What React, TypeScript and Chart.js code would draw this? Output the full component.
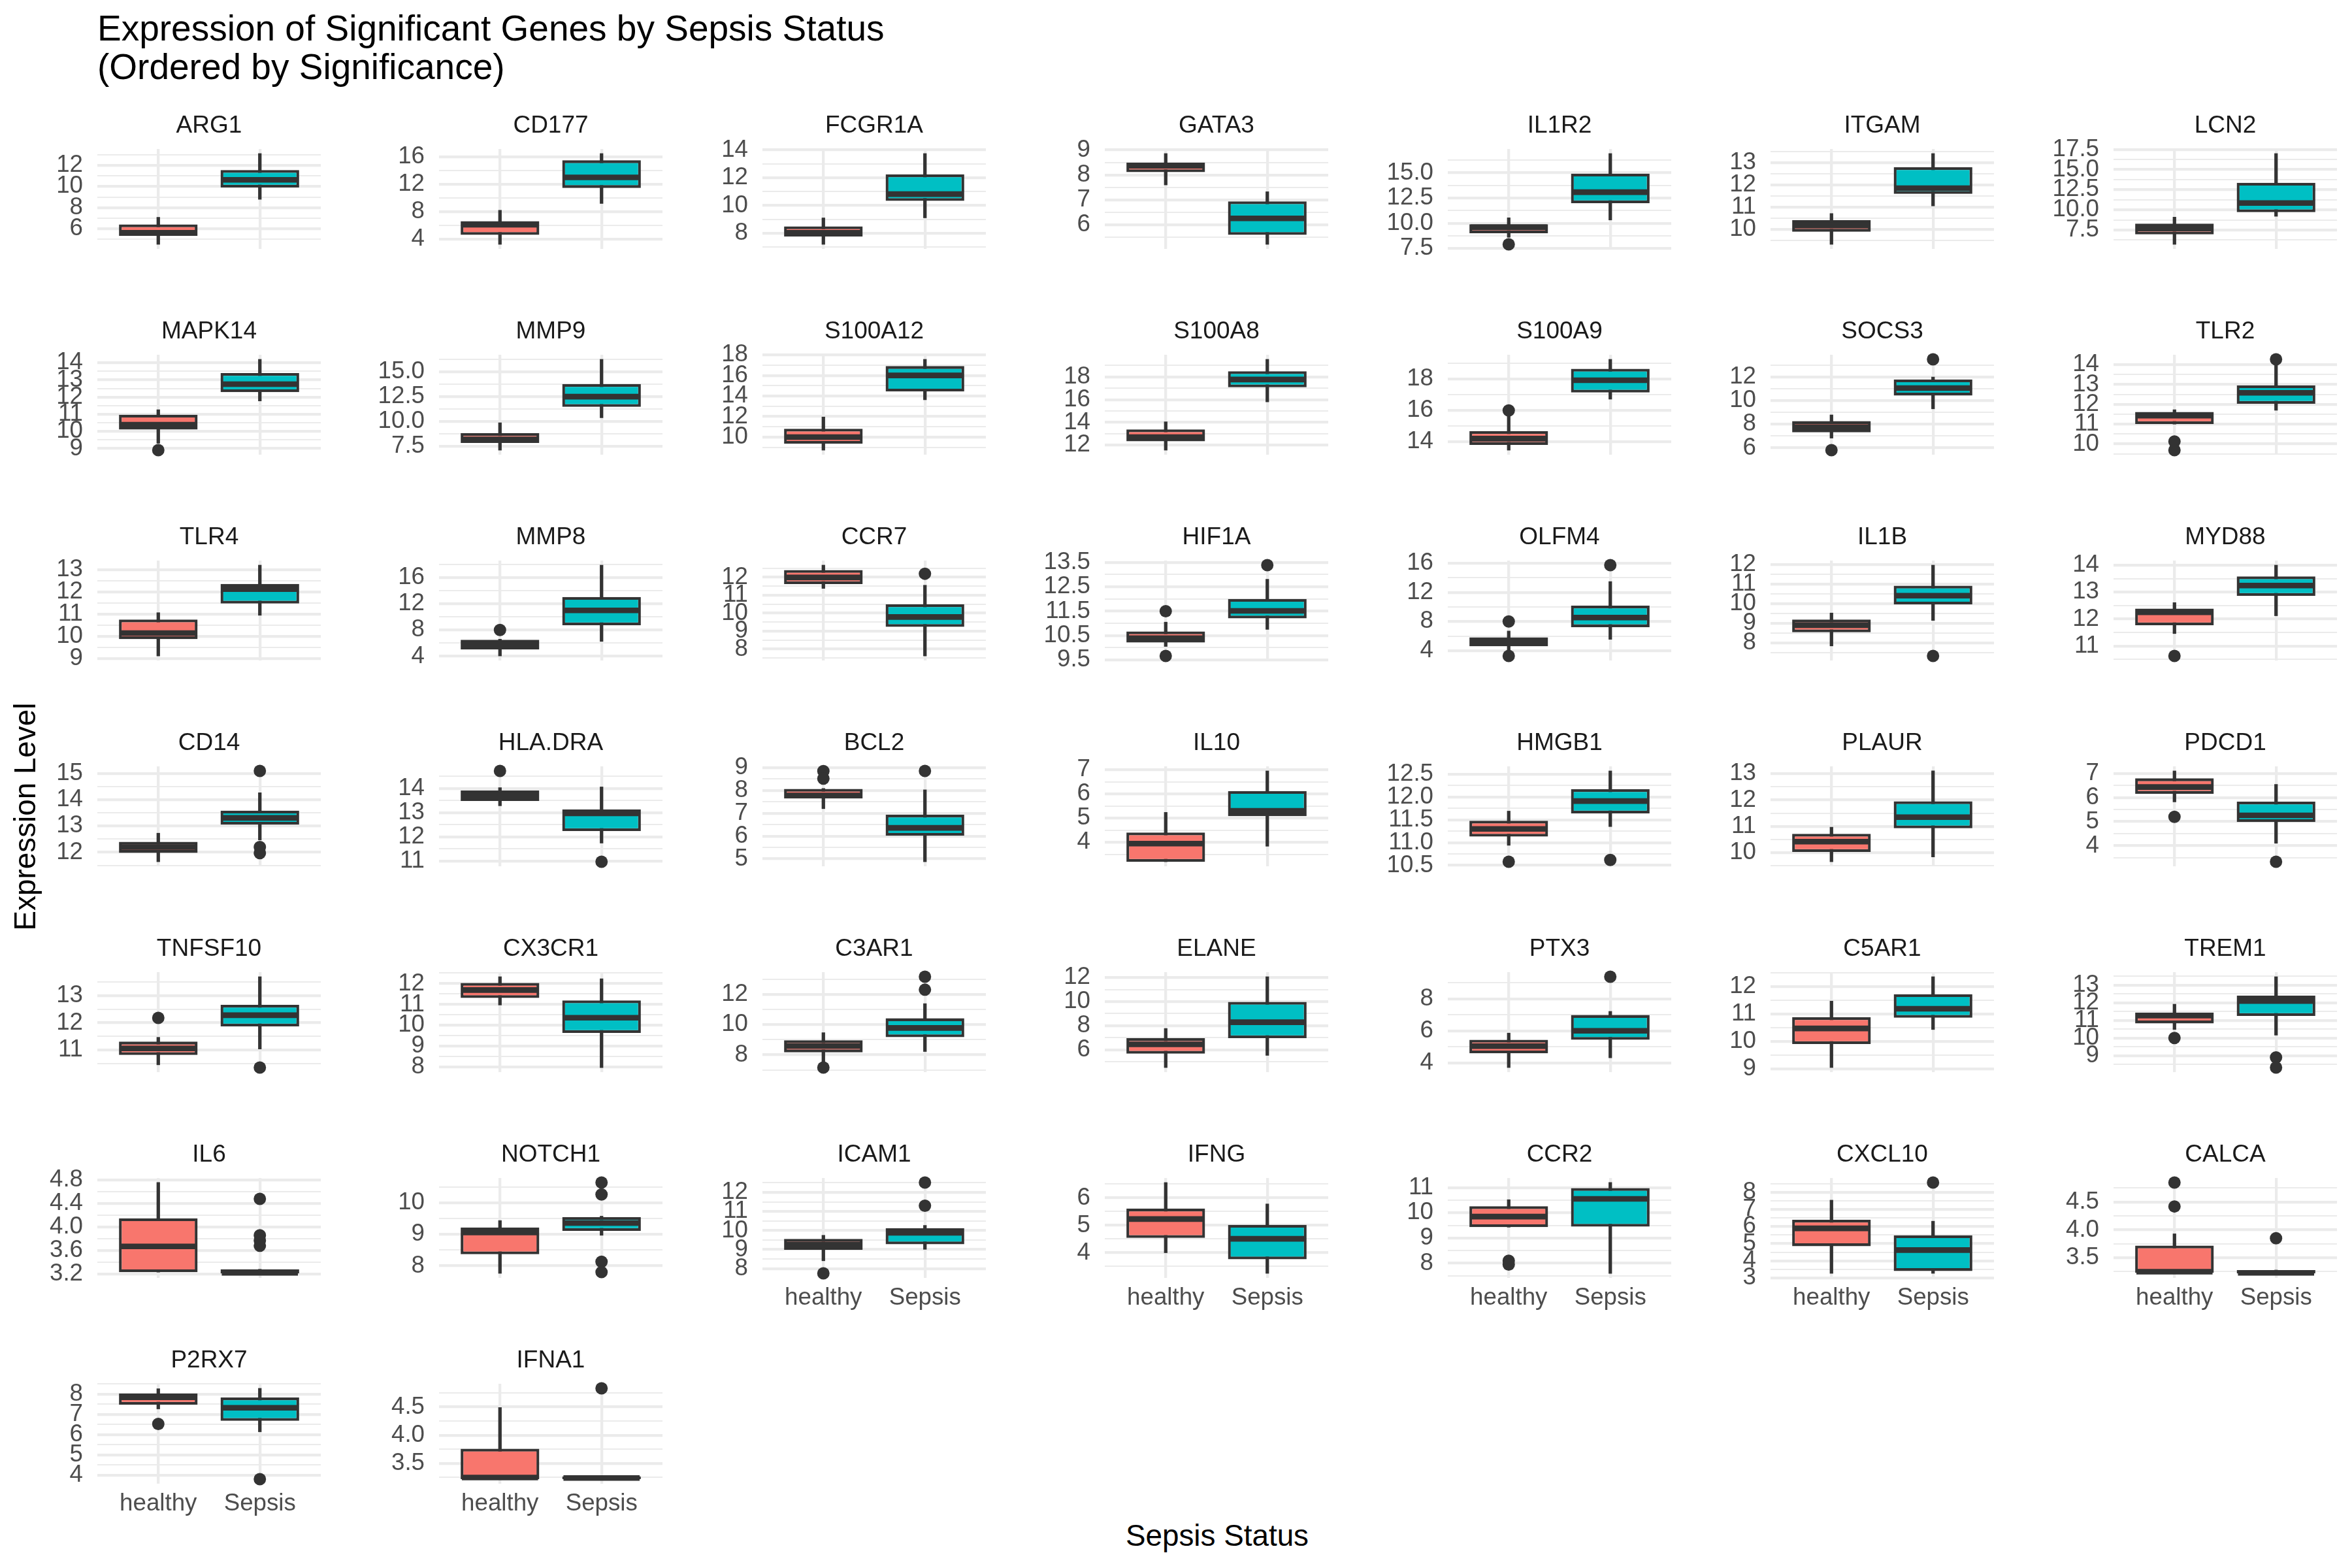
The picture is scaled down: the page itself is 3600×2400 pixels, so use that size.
import React, { useEffect, useRef } from 'react';
import { Chart, registerables } from 'chart.js';

Chart.register(...registerables);

const FONT = "'Liberation Sans', Arial, Helvetica, sans-serif";
Chart.defaults.font.family = FONT;

// ---------------- DATA ----------------
const genes = [
  'ARG1', 'CD177', 'FCGR1A', 'GATA3', 'IL1R2', 'ITGAM', 'LCN2',
  'MAPK14', 'MMP9', 'S100A12', 'S100A8', 'S100A9', 'SOCS3', 'TLR2',
  'TLR4', 'MMP8', 'CCR7', 'HIF1A', 'OLFM4', 'IL1B', 'MYD88',
  'CD14', 'HLA.DRA', 'BCL2', 'IL10', 'HMGB1', 'PLAUR', 'PDCD1',
  'TNFSF10', 'CX3CR1', 'C3AR1', 'ELANE', 'PTX3', 'C5AR1', 'TREM1',
  'IL6', 'NOTCH1', 'ICAM1', 'IFNG', 'CCR2', 'CXCL10', 'CALCA',
  'P2RX7', 'IFNA1',
];

const groups = ['healthy', 'Sepsis'];

// healthy: lower whisker, Q1, median, Q3, upper whisker
const healthyMin = [4.53, 3.23, 7.20, 7.60, 8.60, 9.33, 5.72, 9.30, 7.09, 8.73, 11.55, 13.46, 6.82, 11.00, 9.12, 4.04, 11.38, 10.05, 4.00, 7.84, 11.46, 11.64, 13.28, 7.20, 3.20, 10.94, 9.66, 5.82, 10.46, 10.97, 7.45, 4.52, 3.70, 9.04, 10.48, 3.23, 7.76, 8.41, 4.00, 9.43, 3.26, 3.23, 7.27, 3.22];
const healthyQ1 = [5.34, 4.62, 7.77, 8.11, 9.00, 9.90, 6.96, 10.10, 7.82, 9.35, 12.33, 13.80, 7.31, 11.01, 9.88, 5.05, 11.62, 10.21, 4.60, 8.54, 11.77, 11.98, 13.48, 7.65, 3.20, 11.13, 10.03, 6.16, 10.82, 11.31, 8.17, 5.68, 4.59, 9.90, 10.83, 3.23, 8.37, 8.99, 4.54, 9.43, 4.85, 3.23, 7.48, 3.22];
const healthyMed = [5.63, 6.10, 8.04, 8.37, 9.60, 10.18, 7.70, 10.39, 8.17, 10.00, 12.70, 14.20, 7.75, 11.43, 10.15, 5.80, 11.99, 10.39, 5.20, 8.90, 12.25, 12.20, 13.70, 7.78, 3.95, 11.30, 10.42, 6.44, 11.06, 11.69, 8.59, 6.45, 5.04, 10.47, 11.27, 3.67, 9.06, 9.27, 5.23, 9.85, 5.89, 3.25, 7.85, 3.25];
const healthyQ3 = [6.41, 6.60, 8.50, 8.50, 9.89, 10.43, 8.29, 10.97, 8.80, 10.82, 13.38, 14.68, 8.26, 11.62, 10.76, 6.50, 12.41, 10.67, 5.83, 9.19, 12.39, 12.40, 13.92, 8.07, 4.41, 11.48, 10.72, 6.80, 11.31, 12.03, 8.97, 6.96, 5.44, 10.88, 11.45, 4.15, 9.22, 9.56, 5.61, 10.26, 6.39, 3.72, 8.04, 3.76];
const healthyMax = [7.09, 8.20, 9.11, 8.86, 10.54, 10.72, 9.10, 11.26, 9.85, 11.96, 14.05, 15.66, 8.79, 11.73, 11.07, 6.60, 12.68, 11.05, 6.70, 9.52, 12.61, 12.73, 14.03, 8.09, 5.24, 11.69, 10.97, 7.11, 11.47, 12.33, 9.47, 7.77, 5.86, 11.47, 11.92, 4.76, 9.44, 9.75, 6.56, 10.52, 7.54, 3.93, 8.27, 4.49];

// sepsis: lower whisker, Q1, median, Q3, upper whisker
const sepsisMin = [8.78, 9.18, 9.11, 5.22, 10.32, 11.06, 9.20, 11.77, 10.35, 13.63, 15.80, 16.72, 9.30, 11.70, 10.95, 6.26, 7.62, 10.75, 5.55, 9.14, 12.12, 12.47, 11.74, 4.87, 3.84, 11.35, 9.84, 4.10, 11.04, 7.97, 8.22, 5.53, 4.31, 10.43, 10.16, 3.21, 8.97, 9.01, 3.25, 7.60, 3.26, 3.22, 6.14, 3.22];
const sepsisQ1 = [9.90, 11.45, 10.33, 5.60, 11.99, 11.60, 9.72, 12.28, 11.45, 14.43, 17.09, 17.15, 10.43, 12.03, 11.48, 8.73, 9.24, 11.20, 7.23, 9.95, 12.86, 13.05, 12.24, 6.01, 5.08, 11.64, 10.93, 4.98, 11.87, 9.63, 9.17, 6.96, 5.44, 10.86, 11.25, 3.21, 9.11, 9.28, 3.76, 9.45, 3.40, 3.22, 6.68, 3.22];
const sepsisMed = [10.62, 12.98, 10.82, 6.26, 13.08, 11.86, 10.85, 12.75, 12.47, 16.00, 17.77, 17.93, 11.06, 12.58, 12.13, 11.00, 9.79, 11.51, 8.54, 10.40, 13.24, 13.31, 12.97, 6.36, 5.30, 11.91, 11.35, 5.26, 12.28, 10.36, 9.78, 8.29, 6.00, 11.19, 12.10, 3.22, 9.36, 9.88, 4.51, 10.55, 4.62, 3.23, 7.33, 3.24];
const sepsisQ3 = [11.55, 15.47, 12.24, 6.94, 14.93, 12.80, 13.37, 13.40, 13.74, 16.91, 18.50, 18.66, 11.80, 12.96, 12.36, 13.05, 10.50, 12.00, 10.18, 10.91, 13.58, 13.59, 13.13, 6.94, 6.12, 12.17, 11.95, 5.83, 12.66, 11.19, 10.42, 9.98, 6.99, 11.72, 12.41, 3.28, 9.55, 10.12, 5.02, 10.98, 5.49, 3.28, 7.84, 3.27];
const sepsisMax = [13.11, 16.46, 13.75, 7.33, 16.92, 13.42, 16.99, 14.20, 16.23, 17.57, 19.55, 19.27, 12.00, 14.14, 13.21, 17.90, 11.56, 12.81, 13.49, 11.96, 14.00, 14.27, 14.06, 8.03, 6.95, 12.57, 13.10, 6.55, 13.69, 12.23, 11.39, 12.07, 7.22, 12.36, 13.48, 3.28, 9.58, 10.27, 5.78, 11.20, 6.31, 3.28, 8.29, 3.27];

// outliers
const healthyOutliers: number[][] = [
  [], [], [], [], [7.9], [], [],
  [8.9], [], [], [], [16.0], [5.8], [10.13, 9.69],
  [], [8.0], [], [11.5, 9.66], [8.0, 3.27], [], [10.63],
  [], [14.72], [8.85, 8.52], [], [10.58], [], [5.2],
  [12.18], [], [7.16], [], [], [], [10.0],
  [], [], [7.75], [], [8.1, 7.95], [], [4.85, 4.42],
  [6.53], [],
];
const sepsisOutliers: number[][] = [
  [], [], [], [], [], [], [],
  [], [], [], [], [], [13.5], [14.27],
  [], [], [12.2], [13.39], [15.75], [7.33], [],
  [15.1, 12.2, 11.97], [10.97], [8.86], [], [10.62], [], [3.33],
  [10.36], [], [13.17, 12.31], [], [9.39], [], [8.9, 8.32],
  [4.48, 3.86, 3.77, 3.68], [10.65, 10.27, 8.13, 7.8], [12.52, 11.3], [], [], [8.57], [3.85],
  [3.8], [4.83],
];

// y-axis tick labels per panel
const yTickLabels: string[][] = [
  ['6', '8', '10', '12'], ['4', '8', '12', '16'], ['8', '10', '12', '14'], ['6', '7', '8', '9'],
  ['7.5', '10.0', '12.5', '15.0'], ['10', '11', '12', '13'], ['7.5', '10.0', '12.5', '15.0', '17.5'],
  ['9', '10', '11', '12', '13', '14'], ['7.5', '10.0', '12.5', '15.0'], ['10', '12', '14', '16', '18'],
  ['12', '14', '16', '18'], ['14', '16', '18'], ['6', '8', '10', '12'], ['10', '11', '12', '13', '14'],
  ['9', '10', '11', '12', '13'], ['4', '8', '12', '16'], ['8', '9', '10', '11', '12'],
  ['9.5', '10.5', '11.5', '12.5', '13.5'], ['4', '8', '12', '16'], ['8', '9', '10', '11', '12'], ['11', '12', '13', '14'],
  ['12', '13', '14', '15'], ['11', '12', '13', '14'], ['5', '6', '7', '8', '9'], ['4', '5', '6', '7'],
  ['10.5', '11.0', '11.5', '12.0', '12.5'], ['10', '11', '12', '13'], ['4', '5', '6', '7'],
  ['11', '12', '13'], ['8', '9', '10', '11', '12'], ['8', '10', '12'], ['6', '8', '10', '12'],
  ['4', '6', '8'], ['9', '10', '11', '12'], ['9', '10', '11', '12', '13'],
  ['3.2', '3.6', '4.0', '4.4', '4.8'], ['8', '9', '10'], ['8', '9', '10', '11', '12'], ['4', '5', '6'],
  ['8', '9', '10', '11'], ['3', '4', '5', '6', '7', '8'], ['3.5', '4.0', '4.5'],
  ['4', '5', '6', '7', '8'], ['3.5', '4.0', '4.5'],
];

// ---------------- LAYOUT / STYLE ----------------
const NCOL = 7;
const colLeft = [149, 672, 1167, 1691, 2216, 2710, 3235];
const ROW_TOP0 = 228;
const ROW_STEP = 315;
const PANEL_W = 342;
const PANEL_H = 153;
const AXIS_W = 130;
const STRIP_H = 70;
const XAXIS_H = 70;

const FILLS = ['#F8766D', '#00BFC4'];
const INK = '#333333';
const GRID = '#EBEBEB';
const MAJOR_LW = 4.3;
const MINOR_LW = 2.1;
const OUTLIER_R = 9.5;

// keeps the strip title centred over the panel (not over the whole canvas)
const centerStripTitle = {
  id: 'centerStripTitle',
  afterLayout(chart: any) {
    const t = chart.titleBlock;
    if (t && chart.chartArea) {
      t.left = chart.chartArea.left;
      t.right = chart.chartArea.right;
    }
  },
};

function Panel({ idx }: { idx: number }) {
  const ref = useRef<HTMLCanvasElement | null>(null);
  const row = Math.floor(idx / NCOL);
  const col = idx % NCOL;
  const showX = (row === 5 && col >= 2) || row === 6;
  const cw = AXIS_W * 2 + PANEL_W;
  const ch = STRIP_H + PANEL_H + XAXIS_H;

  useEffect(() => {
    if (!ref.current) return;
    const hOut = healthyOutliers[idx];
    const sOut = sepsisOutliers[idx];
    const all = [healthyMin[idx], healthyMax[idx], sepsisMin[idx], sepsisMax[idx], ...hOut, ...sOut];
    const lo = Math.min(...all);
    const hi = Math.max(...all);
    const pad = (hi - lo) * 0.05;
    const yMin = lo - pad;
    const yMax = hi + pad;

    const labels = yTickLabels[idx];
    const majors = labels.map(Number);
    const step = majors[1] - majors[0];
    const tickList: { value: number; lbl: string; isMajor: boolean }[] = [];
    majors.forEach((v, i) => tickList.push({ value: v, lbl: labels[i], isMajor: true }));
    tickList.push({ value: majors[0] - step / 2, lbl: '', isMajor: false });
    majors.forEach((v) => tickList.push({ value: v + step / 2, lbl: '', isMajor: false }));
    const yTicks = tickList
      .filter((t) => t.value >= yMin && t.value <= yMax)
      .sort((a, b) => a.value - b.value);

    const medRadius = (c: any) => {
      const s = c.chart.scales.x;
      if (!s) return 50;
      return Math.abs(s.getPixelForValue(1.375) - s.getPixelForValue(1));
    };

    const chart = new Chart(ref.current, {
      type: 'bar',
      data: {
        datasets: [
          {
            type: 'bar',
            label: 'whisker',
            data: [
              { x: 1, y: [healthyMin[idx], healthyMax[idx]] },
              { x: 2, y: [sepsisMin[idx], sepsisMax[idx]] },
            ],
            backgroundColor: INK,
            borderWidth: 0,
            barThickness: 4.6,
            grouped: false,
            order: 4,
          } as any,
          {
            type: 'bar',
            label: 'box',
            data: [
              { x: 1, y: [healthyQ1[idx], healthyQ3[idx]] },
              { x: 2, y: [sepsisQ1[idx], sepsisQ3[idx]] },
            ],
            backgroundColor: FILLS,
            borderColor: INK,
            borderWidth: MAJOR_LW,
            borderSkipped: false,
            barPercentage: 0.774,
            categoryPercentage: 1,
            grouped: false,
            order: 3,
          } as any,
          {
            type: 'scatter',
            label: 'median',
            data: [
              { x: 1, y: healthyMed[idx] },
              { x: 2, y: sepsisMed[idx] },
            ],
            pointStyle: 'line',
            pointRadius: medRadius,
            pointBorderWidth: 8.6,
            pointBorderColor: INK,
            pointBackgroundColor: INK,
            order: 2,
            clip: false,
          } as any,
          {
            type: 'scatter',
            label: 'outliers',
            data: [
              ...hOut.map((v) => ({ x: 1, y: v })),
              ...sOut.map((v) => ({ x: 2, y: v })),
            ],
            pointStyle: 'circle',
            pointRadius: OUTLIER_R,
            pointBorderWidth: 0,
            pointBackgroundColor: INK,
            order: 1,
            clip: false,
          } as any,
        ],
      },
      options: {
        responsive: false,
        animation: false,
        events: [],
        layout: { padding: { left: 0, right: AXIS_W, top: 0, bottom: 0 } },
        plugins: {
          legend: { display: false },
          tooltip: { enabled: false },
          title: {
            display: true,
            text: genes[idx],
            color: '#1A1A1A',
            font: { size: 37, weight: 'normal', lineHeight: 1, family: FONT },
            padding: { top: 16, bottom: 17 },
          },
        },
        scales: {
          x: {
            type: 'linear',
            min: 0.4,
            max: 2.6,
            offset: false,
            afterBuildTicks: (s: any) => {
              s.ticks = [{ value: 1 }, { value: 2 }];
            },
            afterFit: (s: any) => {
              s.height = XAXIS_H;
            },
            grid: { color: GRID, lineWidth: MAJOR_LW, drawTicks: false, offset: false },
            border: { display: false },
            ticks: {
              display: showX,
              autoSkip: false,
              maxRotation: 0,
              minRotation: 0,
              padding: 9,
              color: '#4D4D4D',
              font: { size: 36.7, family: FONT },
              callback: (v: any) => (v === 1 ? groups[0] : v === 2 ? groups[1] : ''),
            },
          },
          y: {
            type: 'linear',
            min: yMin,
            max: yMax,
            afterBuildTicks: (s: any) => {
              s.ticks = yTicks.map((t) => ({ ...t }));
            },
            afterFit: (s: any) => {
              s.width = AXIS_W;
            },
            grid: {
              color: GRID,
              lineWidth: (c: any) => (c.tick && c.tick.isMajor ? MAJOR_LW : MINOR_LW),
              drawTicks: false,
            },
            border: { display: false },
            ticks: {
              autoSkip: false,
              padding: 22,
              color: '#4D4D4D',
              font: { size: 36.7, family: FONT },
              callback: (_v: any, i: number, t: any[]) => (t[i] && t[i].lbl) || '',
            },
          },
        },
      } as any,
      plugins: [centerStripTitle],
    });
    return () => chart.destroy();
  }, [idx]);

  return (
    <canvas
      ref={ref}
      width={cw}
      height={ch}
      style={{
        position: 'absolute',
        left: colLeft[col] - AXIS_W,
        top: ROW_TOP0 + ROW_STEP * row - STRIP_H,
        width: cw,
        height: ch,
      }}
    />
  );
}

export default function App() {
  useEffect(() => {
    document.body.style.margin = '0';
  }, []);
  return (
    <div
      style={{
        position: 'absolute',
        left: 0,
        top: 0,
        width: 3600,
        height: 2400,
        background: '#ffffff',
        overflow: 'hidden',
        fontFamily: FONT,
      }}
    >
      <div
        style={{
          position: 'absolute',
          left: 149,
          top: 14,
          fontSize: 55,
          lineHeight: '59px',
          color: '#000000',
          whiteSpace: 'pre',
        }}
      >
        {'Expression of Significant Genes by Sepsis Status\n(Ordered by Significance)'}
      </div>
      {genes.map((g, i) => (
        <Panel key={g} idx={i} />
      ))}
      <div
        style={{
          position: 'absolute',
          left: 1863 - 400,
          top: 2328,
          width: 800,
          textAlign: 'center',
          fontSize: 45.8,
          lineHeight: '46px',
          color: '#000000',
        }}
      >
        Sepsis Status
      </div>
      <div
        style={{
          position: 'absolute',
          left: 39 - 400,
          top: 1250 - 23,
          width: 800,
          height: 46,
          textAlign: 'center',
          fontSize: 45.8,
          lineHeight: '46px',
          color: '#000000',
          transform: 'rotate(-90deg)',
        }}
      >
        Expression Level
      </div>
    </div>
  );
}
